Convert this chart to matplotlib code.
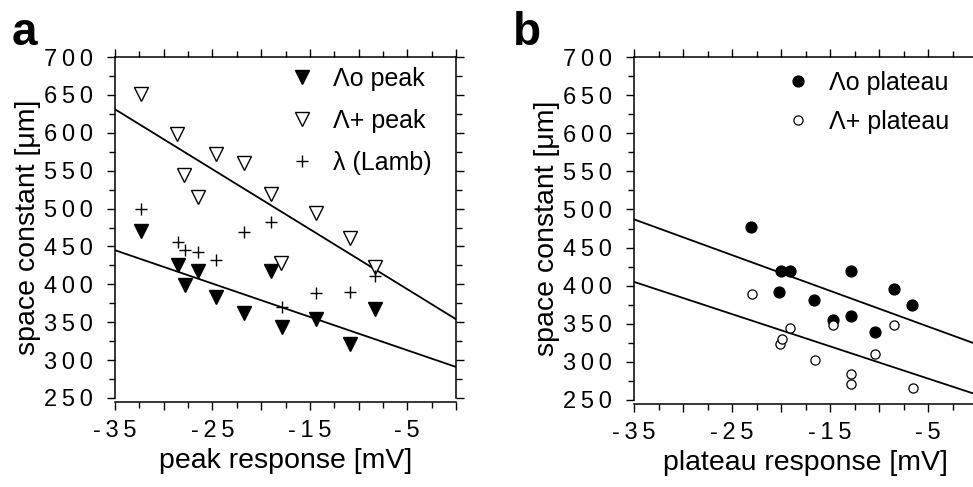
import matplotlib
matplotlib.use("Agg")
import matplotlib.pyplot as plt
from matplotlib.ticker import MultipleLocator, FuncFormatter

plt.rcParams['font.family'] = ['Liberation Sans', 'DejaVu Sans']

# ---- data: panel a (peak response) ----
peak_x = [-32.3, -28.6, -27.9, -26.5, -24.6, -21.8, -19.0, -18.0, -14.4, -10.9, -8.3]
peak_plus = [651, 598, 544, 515, 572, 560, 519, 428, 494, 461, 423]
peak_o_x = [-32.3, -28.5, -27.8, -26.5, -24.6, -21.8, -19.0, -17.9, -14.4, -10.9, -8.3]
peak_o = [470, 426, 399, 418, 383, 362, 418, 344, 354, 321, 367]
lamb_x = [-32.3, -28.5, -27.8, -26.5, -24.6, -21.8, -19.0, -17.9, -14.4, -10.9, -8.3]
lamb = [500, 456, 445, 443, 432, 469, 482, 370, 389, 390, 411]

# ---- data: panel b (plateau response) ----
plat_o_x = [-23.1, -20.0, -19.1, -20.2, -16.6, -14.7, -12.9, -12.9, -10.4, -8.5, -6.6]
plat_o = [477, 419, 419, 392, 381, 355, 419, 360, 339, 396, 375]
plat_plus_x = [-23.0, -20.1, -19.9, -19.1, -16.5, -14.7, -12.9, -12.9, -10.4, -8.5, -6.5]
plat_plus = [389, 323, 330, 344, 302, 348, 284, 271, 310, 348, 266]

# regression lines (values at x = -35 and x = 0)
fit_x = [-35, 0]
fit_a_plus = [631, 354]
fit_a_o = [445, 291]
fit_b_o = [487, 323]
fit_b_plus = [405, 257]

x_labels = [-35, -25, -15, -5]
y_labels = [250, 300, 350, 400, 450, 500, 550, 600, 650, 700]

W, H = 973, 487
fig = plt.figure(figsize=(W / 100, H / 100), dpi=100)
axa = fig.add_axes([115 / W, (H - 398) / H, 341 / W, 341 / H])
axb = fig.add_axes([634 / W, (H - 400) / H, 343 / W, 343 / H])

TICKFS = 17
LABFS = 20.5
GAP = '\u2009'


def spaced(s):
    return GAP.join(s)


def style(ax, xlabel):
    ax.set_xlim(-35, 0)
    ax.set_ylim(250, 700)
    for sp in ax.spines.values():
        sp.set_linewidth(1.1)
    ax.spines['bottom'].set_position(('outward', 3))
    ax.xaxis.set_major_locator(MultipleLocator(5))
    ax.xaxis.set_minor_locator(MultipleLocator(2.5))
    ax.yaxis.set_major_locator(MultipleLocator(50))
    ax.yaxis.set_minor_locator(MultipleLocator(25))
    ax.xaxis.set_major_formatter(FuncFormatter(
        lambda v, p: spaced(f'{v:g}') if round(v) in x_labels else ''))
    ax.yaxis.set_major_formatter(FuncFormatter(
        lambda v, p: spaced(f'{v:g}') if round(v) in y_labels else ''))
    ax.tick_params(which='both', direction='out', top=True, right=True,
                   width=1.0, labelsize=TICKFS)
    ax.tick_params(which='major', length=6)
    ax.tick_params(which='minor', length=4)
    ax.tick_params(axis='y', pad=10)
    ax.tick_params(axis='x', pad=7)
    ax.set_xlabel(xlabel, fontsize=LABFS, labelpad=4)
    ax.set_ylabel('space constant [μm]', fontsize=LABFS, labelpad=2)


# ---- panel a ----
axa.plot(fit_x, fit_a_plus, color='black', lw=1.3, zorder=1)
axa.plot(fit_x, fit_a_o, color='black', lw=1.3, zorder=1)
axa.plot(peak_o_x, peak_o, linestyle='none', marker='v', ms=10,
         color='black', label='Λo peak', zorder=3)
axa.plot(peak_x, peak_plus, linestyle='none', marker='v', ms=10,
         mfc='white', mec='black', mew=1.0, label='Λ+ peak', zorder=3)
axa.plot(lamb_x, lamb, linestyle='none', marker='+', ms=9,
         mec='black', mew=1.0, label='λ (Lamb)', zorder=3)
style(axa, 'peak response [mV]')
axa.legend(loc='upper left', bbox_to_anchor=(0.516, 0.972), frameon=False,
           fontsize=18, handlelength=0.9, handletextpad=0.8,
           labelspacing=0.72, borderpad=0, borderaxespad=0)

# ---- panel b ----
axb.plot(fit_x, fit_b_o, color='black', lw=1.3, zorder=1)
axb.plot(fit_x, fit_b_plus, color='black', lw=1.3, zorder=1)
axb.plot(plat_o_x, plat_o, linestyle='none', marker='o', ms=7.8,
         color='black', label='Λo plateau', zorder=3)
axb.plot(plat_plus_x, plat_plus, linestyle='none', marker='o', ms=6.6,
         mfc='white', mec='black', mew=0.9, label='Λ+ plateau', zorder=3)
style(axb, 'plateau response [mV]')
axb.legend(loc='upper left', bbox_to_anchor=(0.445, 0.96), frameon=False,
           fontsize=18, handlelength=0.9, handletextpad=0.8,
           labelspacing=0.62, borderpad=0, borderaxespad=0)

fig.text(12 / W, 1 - 45 / H, 'a', fontsize=33, fontweight='bold', va='baseline')
fig.text(513 / W, 1 - 45 / H, 'b', fontsize=33, fontweight='bold', va='baseline')

fig.savefig('out.png', dpi=100)
